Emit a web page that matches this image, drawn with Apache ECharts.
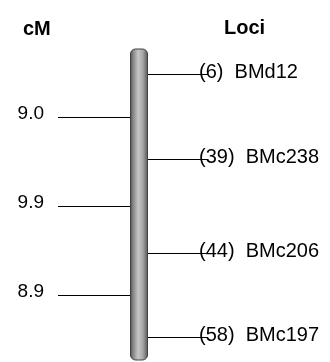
<!DOCTYPE html>
<html><head><meta charset="utf-8">
<script src="https://cdn.jsdelivr.net/npm/echarts@6/dist/echarts.min.js"></script>
<style>html,body{margin:0;padding:0;background:#fff}#c{width:330px;height:362px}</style>
</head><body><div id="c"></div>
<script>
const lociNames = ['BMd12', 'BMc238', 'BMc206', 'BMc197'];
const lociIds = [6, 39, 44, 58];
const intervals = [9.0, 9.9, 8.9];
const intervalLabels = ['9.0', '9.9', '8.9'];
const headers = ['cM', 'Loci'];

const positions = [0];
intervals.forEach(v => positions.push(+(positions[positions.length - 1] + v).toFixed(2)));
const mids = intervals.map((v, i) => (positions[i] + positions[i + 1]) / 2);
const total = positions[positions.length - 1];

const FONT = '"Liberation Sans", Arial, sans-serif';
const chart = echarts.init(document.getElementById('c'), null, {renderer: 'canvas'});
chart.setOption({
  animation: false,
  backgroundColor: '#fff',
  grid: {left: 0, right: 0, top: 74, bottom: 25},
  xAxis: {type: 'value', min: 0, max: 1, show: false},
  yAxis: {type: 'value', min: 0, max: total, inverse: true, show: false},
  graphic: [
    {type: 'text', style: {x: 23, y: 19, text: headers[0], font: 'bold 20px ' + FONT, fill: '#000', textBaseline: 'middle'}},
    {type: 'text', style: {x: 224, y: 18, text: headers[1], font: 'bold 20px ' + FONT, fill: '#000', textBaseline: 'middle'}}
  ],
  series: [
    {
      type: 'custom', clip: false, z: 2,
      data: [[0, 0, total]],
      renderItem: function (params, api) {
        const y0 = api.coord([0, api.value(1)])[1] - 25;
        const y1 = api.coord([0, api.value(2)])[1] + 23;
        return {
          type: 'rect',
          shape: {x: 130.5, y: y0, width: 17, height: y1 - y0, r: 5},
          style: {
            fill: new echarts.graphic.LinearGradient(0, 0, 1, 0, [
              {offset: 0, color: '#555555'},
              {offset: 0.2, color: '#8c8c8c'},
              {offset: 0.45, color: '#c6c6c6'},
              {offset: 0.7, color: '#a8a8a8'},
              {offset: 1, color: '#555555'}
            ]),
            stroke: '#404040', lineWidth: 1
          }
        };
      }
    },
    {
      type: 'custom', clip: false, z: 1,
      data: positions.map((p, i) => [0, p, i]),
      renderItem: function (params, api) {
        const i = api.value(2);
        const y = Math.round(api.coord([0, api.value(1)])[1]) + 0.5;
        return {
          type: 'group',
          children: [
            {type: 'line', shape: {x1: 148, y1: y, x2: 208, y2: y}, style: {stroke: '#000', lineWidth: 1}},
            {type: 'text', style: {x: 199, y: y - 12, text: '(' + lociIds[i] + ')  ' + lociNames[i], font: '20px ' + FONT, fill: '#000', textBaseline: 'middle'}}
          ]
        };
      }
    },
    {
      type: 'custom', clip: false, z: 1,
      data: mids.map((m, i) => [0, m, i]),
      renderItem: function (params, api) {
        const i = api.value(2);
        const y = Math.round(api.coord([0, api.value(1)])[1]) + 0.5;
        return {
          type: 'group',
          children: [
            {type: 'line', shape: {x1: 58, y1: y, x2: 133, y2: y}, style: {stroke: '#000', lineWidth: 1}},
            {type: 'text', style: {x: 44, y: y - 13, text: intervalLabels[i], font: '19px ' + FONT, fill: '#000', textAlign: 'right', textBaseline: 'middle'}}
          ]
        };
      }
    }
  ]
});
</script></body></html>
